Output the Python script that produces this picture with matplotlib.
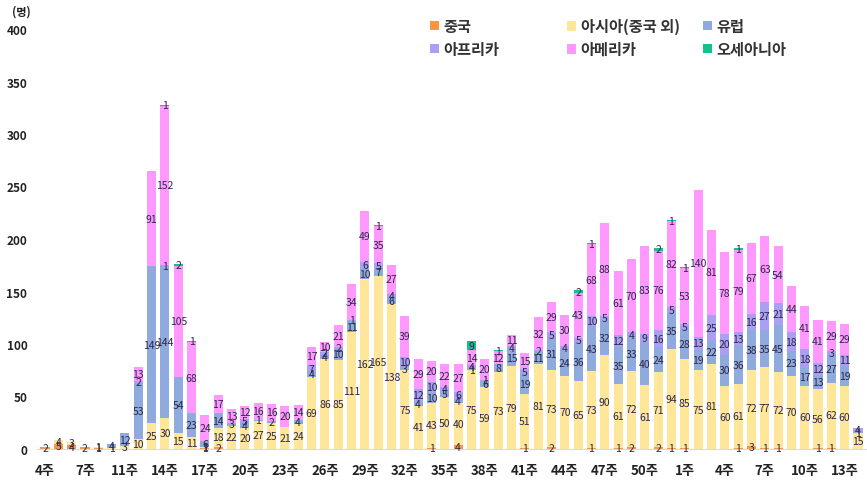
import numpy as np
import matplotlib
matplotlib.use('Agg')
import matplotlib.pyplot as plt
from matplotlib.patches import Patch

plt.rcParams['font.family'] = ['Noto Sans CJK KR', 'DejaVu Sans']

# weekly imported cases by region (one entry per bar)
china = [2, 5, 4, 2, 1, 0, 0, 0, 0, 0, 0, 0, 1, 2, 0, 0, 0, 0, 0, 0,
         0, 0, 0, 0, 0, 0, 0, 0, 0, 1, 0, 4, 0, 0, 0, 0, 1, 0, 2, 0,
         0, 1, 0, 1, 2, 0, 2, 1, 1, 0, 0, 0, 1, 3, 1, 1, 0, 0, 1, 1,
         0, 0]
asia = [0, 4, 3, 0, 1, 1, 3, 10, 25, 30, 15, 11, 1, 18, 22, 20, 27, 25, 21, 24,
        69, 86, 85, 111, 162, 165, 138, 75, 41, 43, 50, 40, 75, 59, 73, 79, 51, 81, 73, 70,
        65, 73, 90, 61, 72, 61, 71, 94, 85, 75, 81, 60, 61, 72, 77, 72, 70, 60, 56, 62,
        60, 15]
europe = [0, 0, 0, 0, 0, 4, 12, 53, 149, 144, 54, 23, 6, 14, 3, 4, 1, 2, 0, 4,
          4, 4, 10, 11, 10, 7, 6, 3, 4, 10, 5, 4, 1, 6, 8, 15, 19, 11, 31, 24,
          36, 43, 32, 35, 33, 40, 24, 35, 28, 19, 22, 30, 36, 38, 35, 45, 23, 17, 13, 27,
          19, 1]
africa = [0, 0, 0, 0, 0, 0, 0, 2, 0, 1, 0, 0, 0, 0, 0, 5, 0, 0, 0, 0,
          7, 2, 2, 1, 6, 5, 4, 10, 12, 10, 4, 6, 4, 1, 0, 4, 5, 2, 5, 4,
          5, 10, 5, 12, 4, 9, 16, 5, 5, 13, 25, 20, 13, 16, 27, 21, 18, 18, 12, 3,
          11, 4]
america = [0, 0, 0, 0, 0, 0, 0, 13, 91, 152, 105, 68, 24, 17, 13, 12, 16, 16, 20, 14,
           17, 10, 21, 34, 49, 35, 27, 39, 29, 20, 22, 27, 14, 20, 12, 11, 15, 32, 29, 30,
           43, 68, 88, 61, 70, 83, 76, 82, 53, 140, 81, 78, 79, 67, 63, 54, 44, 41, 41, 29,
           29, 0]
oceania = [0, 0, 0, 0, 0, 0, 0, 0, 0, 1, 2, 1, 0, 0, 0, 0, 0, 0, 0, 0,
           0, 0, 0, 0, 0, 1, 0, 0, 0, 0, 0, 0, 9, 0, 1, 0, 0, 0, 0, 0,
           2, 1, 0, 0, 0, 0, 2, 1, 1, 0, 0, 0, 1, 0, 0, 0, 0, 0, 0, 0,
           0, 0]

week_labels = ['4주', '7주', '11주', '14주', '17주', '20주', '23주', '26주', '29주',
               '32주', '35주', '38주', '41주', '44주', '47주', '50주', '1주', '4주',
               '7주', '10주', '13주']

series = [
    ('중국', china, '#f79646'),
    ('아시아(중국 외)', asia, '#ffe699'),
    ('유럽', europe, '#8faadc'),
    ('아프리카', africa, '#aa9ff2'),
    ('아메리카', america, '#ff99ff'),
    ('오세아니아', oceania, '#14c08c'),
]

fig = plt.figure(figsize=(8.67, 4.85), dpi=100)
ax = fig.add_axes([37 / 867, 35 / 485, 829 / 867, 420 / 485])

x = np.arange(len(asia))
bottom = np.zeros(len(x))
for name, vals, color in series:
    vals = np.array(vals)
    ax.bar(x, vals, 0.68, bottom=bottom, color=color, label=name, linewidth=0)
    for i, v in enumerate(vals):
        if v > 0:
            ax.text(i, bottom[i] + v / 2, str(v), ha='center', va='center',
                    fontsize=7.5, color='#2b2848')
    bottom += vals

ax.set_xlim(-0.6, len(x) - 0.4)
ax.set_ylim(0, 400)
ax.set_yticks(range(0, 401, 50))
ax.set_xticks(range(0, len(x), 3))
ax.set_xticklabels(week_labels)
ax.tick_params(axis='x', length=0, pad=10, labelsize=9.5)
ax.tick_params(axis='y', length=0, pad=7, labelsize=8.5)
for lbl in ax.get_xticklabels() + ax.get_yticklabels():
    lbl.set_fontweight('bold')
    lbl.set_color('#222222')

for side in ['top', 'right', 'left']:
    ax.spines[side].set_visible(False)
ax.spines['bottom'].set_color('#d9d9d9')

fig.text(12 / 867, 1 - 12 / 485, '(명)', fontsize=8, fontweight='bold',
         ha='left', va='center', color='#222222')

# legend: three columns, two rows
handles = [Patch(facecolor=c, edgecolor='none', label=n) for n, _, c in series]
col_x = [430, 567, 703]
for k in range(3):
    leg = fig.legend(handles=[handles[k], handles[k + 3]], loc='upper left',
                     bbox_to_anchor=(col_x[k] / 867, 1 - 19 / 485),
                     frameon=False, borderpad=0, borderaxespad=0,
                     handlelength=0.6, handleheight=0.6, handletextpad=0.3,
                     labelspacing=0.45, prop={'size': 11, 'weight': 'bold'})
    for t in leg.get_texts():
        t.set_color('#333333')

fig.savefig('out.png', dpi=100)
